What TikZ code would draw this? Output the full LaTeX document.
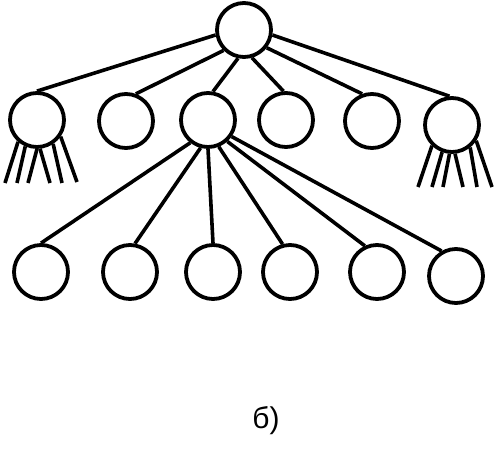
\documentclass[tikz,border=0pt]{standalone}
\usepackage{fontspec}
\setmainfont{Liberation Sans}
\begin{document}
\begin{tikzpicture}[x=1pt,y=-1pt,
  vertex/.style={circle,draw,line width=3.8pt,minimum size=54pt,inner sep=0pt},
  small/.style={vertex,minimum size=54pt},
  edge/.style={line width=3.6pt},
  lbl/.style={font=\fontsize{30}{34}\selectfont,inner sep=0pt}]
\useasboundingbox (0,0) rectangle (494,450);
% top
\node[vertex] (t) at (244,30) {};
% row 2
\node[vertex] (a) at (37,120) {};
\node[vertex] (b) at (126,121) {};
\node[vertex] (c) at (208,120) {};
\node[vertex] (d) at (286,120) {};
\node[vertex] (e) at (372,121) {};
\node[vertex] (f) at (452,125) {};
% row 3
\node[small] (p1) at (41,272) {};
\node[small] (p2) at (130,272) {};
\node[small] (p3) at (213,272) {};
\node[small] (p4) at (290,272) {};
\node[small] (p5) at (377,272) {};
\node[small] (p6) at (456,276) {};
% top edges
\draw[edge] (t.190) -- (a.north);
\draw[edge] (t.225) -- (b.70);
\draw[edge] (t.258) -- (c.80);
\draw[edge] (t.286) -- (d.95);
\draw[edge] (t.322) -- (e.110);
\draw[edge] (t.350) -- (f.95);
% middle to bottom
\draw[edge] (c.232) -- (p1.north);
\draw[edge] (c.255) -- (p2.80);
\draw[edge] (c.270) -- (p3.north);
\draw[edge] (c.292) -- (p4.105);
\draw[edge] (c.312) -- (p5.115);
\draw[edge] (c.325) -- (p6.120);
% left fringe
\coordinate (l1) at (5,183);
\coordinate (l2) at (17,183);
\coordinate (l3) at (28,183);
\coordinate (l4) at (50,183);
\coordinate (l5) at (62,183);
\coordinate (l6) at (77,182);
\draw[edge] (a.229) -- (l1);
\draw[edge] (a.246) -- (l2);
\draw[edge] (a.270) -- (l3);
\draw[edge] (a.276) -- (l4);
\draw[edge] (a.304) -- (l5);
\draw[edge] (a.325) -- (l6);
% right fringe
\coordinate (r1) at (418,187);
\coordinate (r2) at (432,187);
\coordinate (r3) at (443,187);
\coordinate (r4) at (463,187);
\coordinate (r5) at (477,187);
\coordinate (r6) at (492,187);
\draw[edge] (f.226) -- (r1);
\draw[edge] (f.250) -- (r2);
\draw[edge] (f.265) -- (r3);
\draw[edge] (f.276) -- (r4);
\draw[edge] (f.309) -- (r5);
\draw[edge] (f.327) -- (r6);
% label
\node[lbl] (cap) at (266,421) {б)};
\end{tikzpicture}
\end{document}
